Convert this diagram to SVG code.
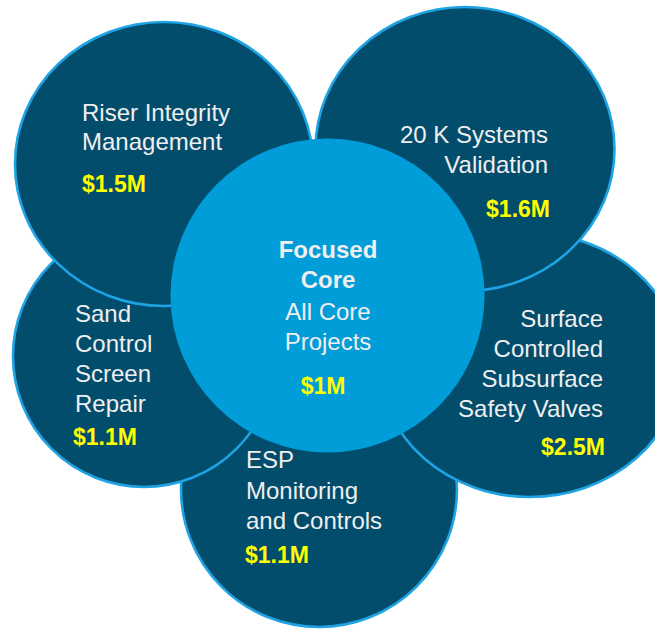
<svg xmlns="http://www.w3.org/2000/svg" width="655" height="630" viewBox="0 0 655 630">
<style>
.petal{fill:#034d6c;stroke:#1ea4e4;stroke-width:2.6}
.core{fill:#009dd9}
.t{font-family:"Liberation Sans",Arial,sans-serif;font-size:24px;fill:#efefef}
.b{font-weight:bold}
.m{font-family:"Liberation Sans",Arial,sans-serif;font-size:23px;font-weight:bold;fill:#ffff00}
.r{text-anchor:end}
.c{text-anchor:middle}
</style>
<rect width="655" height="630" fill="#ffffff"/>
<g id="connectors"/>
<g id="esp">
<circle class="petal" cx="319" cy="489" r="138"/>
<text class="t" x="246" y="468">ESP</text>
<text class="t" x="246" y="499">Monitoring</text>
<text class="t" x="246" y="529">and Controls</text>
<text class="m" x="245" y="563">$1.1M</text>
</g>
<g id="surface">
<ellipse class="petal" cx="530" cy="365" rx="150" ry="132"/>
<text class="t r" x="603" y="327">Surface</text>
<text class="t r" x="603" y="357">Controlled</text>
<text class="t r" x="603" y="387">Subsurface</text>
<text class="t r" x="603" y="417">Safety Valves</text>
<text class="m r" x="605" y="455">$2.5M</text>
</g>
<g id="sand">
<circle class="petal" cx="144" cy="356" r="131"/>
<text class="t" x="75" y="322">Sand</text>
<text class="t" x="75" y="352">Control</text>
<text class="t" x="75" y="382">Screen</text>
<text class="t" x="75" y="412">Repair</text>
<text class="m" x="73" y="445">$1.1M</text>
</g>
<g id="validation">
<ellipse class="petal" cx="465" cy="149" rx="149.5" ry="142"/>
<text class="t r" x="548" y="143">20 K Systems</text>
<text class="t r" x="548" y="173">Validation</text>
<text class="m r" x="550" y="217">$1.6M</text>
</g>
<g id="riser">
<ellipse class="petal" cx="164" cy="164" rx="149" ry="142"/>
<text class="t" x="82" y="121">Riser Integrity</text>
<text class="t" x="82" y="150">Management</text>
<text class="m" x="82" y="192">$1.5M</text>
</g>
<g id="core">
<circle class="core" cx="327.5" cy="295.5" r="157"/>
<text class="t b c" x="328" y="258">Focused</text>
<text class="t b c" x="328" y="288">Core</text>
<text class="t c" x="328" y="320">All Core</text>
<text class="t c" x="328" y="350">Projects</text>
<text class="m c" x="323" y="394">$1M</text>
</g>
</svg>
